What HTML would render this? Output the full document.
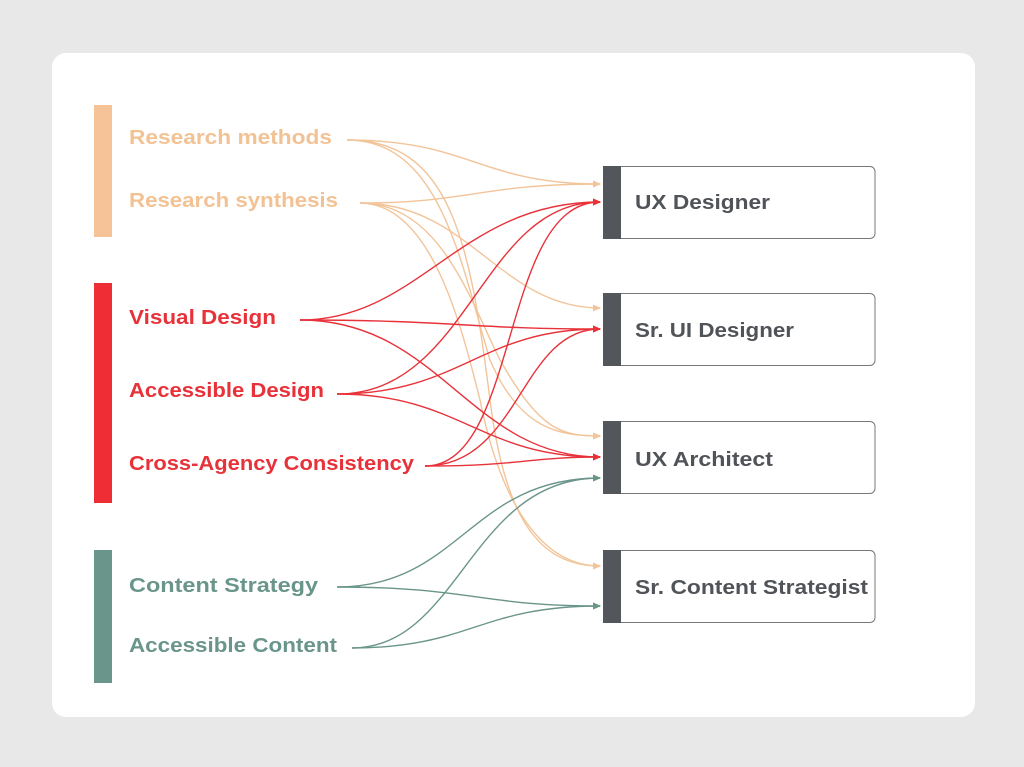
<!DOCTYPE html>
<html><head><style>
html,body{margin:0;padding:0;background:#e8e8e8;}
svg{display:block;}
text{font-family:"Liberation Sans",sans-serif;font-weight:bold;font-size:20px;}
</style></head><body>
<svg width="1024" height="767" viewBox="0 0 1024 767" xmlns="http://www.w3.org/2000/svg">
<defs>
<marker id="ao" markerWidth="8" markerHeight="8" refX="7" refY="4" orient="auto" markerUnits="userSpaceOnUse"><path d="M0,0.5 L8,4 L0,7.5z" fill="#f2c49a"/></marker>
<marker id="ar" markerWidth="8" markerHeight="8" refX="7" refY="4" orient="auto" markerUnits="userSpaceOnUse"><path d="M0,0.5 L8,4 L0,7.5z" fill="#e8323a"/></marker>
<marker id="ag" markerWidth="8" markerHeight="8" refX="7" refY="4" orient="auto" markerUnits="userSpaceOnUse"><path d="M0,0.5 L8,4 L0,7.5z" fill="#6a958a"/></marker>
</defs>
<rect x="52" y="53" width="923" height="664" rx="14" fill="#fff"/>
<rect x="94" y="105" width="18" height="132" fill="#f5c397"/>
<rect x="94" y="283" width="18" height="220" fill="#ee2d35"/>
<rect x="94" y="550" width="18" height="133" fill="#6a958a"/>
<g fill="#f3c294">
<text x="129" y="144" textLength="203" lengthAdjust="spacingAndGlyphs">Research methods</text>
<text x="129" y="207" textLength="209" lengthAdjust="spacingAndGlyphs">Research synthesis</text>
</g>
<g fill="#e8323a">
<text x="129" y="324" textLength="147" lengthAdjust="spacingAndGlyphs">Visual Design</text>
<text x="129" y="397" textLength="195" lengthAdjust="spacingAndGlyphs">Accessible Design</text>
<text x="129" y="470" textLength="285" lengthAdjust="spacingAndGlyphs">Cross-Agency Consistency</text>
</g>
<g fill="#6a958a">
<text x="129" y="592" textLength="189" lengthAdjust="spacingAndGlyphs">Content Strategy</text>
<text x="129" y="652" textLength="208" lengthAdjust="spacingAndGlyphs">Accessible Content</text>
</g>
<g fill="none" stroke-width="1.4">
<g stroke="#f2c49a" marker-end="url(#ao)">
<path d="M347,140 C470,140 480,184 600,184"/>
<path d="M347,140 C450,140 470,240 490,400 C505,520 540,566 600,566"/>
<path d="M347,140 C440,140 460,260 490,360 C520,430 560,436 600,436"/>
<path d="M360,203 C470,203 480,184 600,184"/>
<path d="M360,203 C470,203 500,308 600,308"/>
<path d="M360,203 C440,203 470,300 500,360 C540,430 560,436 600,436"/>
<path d="M360,203 C430,203 460,320 480,400 C500,500 540,566 600,566"/>
</g>
<g stroke="#e8323a" marker-end="url(#ar)">
<path d="M300,320 C420,320 460,202 600,202"/>
<path d="M300,320 C450,320 470,329 600,329"/>
<path d="M300,320 C440,320 470,457 600,457"/>
<path d="M337,394 C470,394 480,202 600,202"/>
<path d="M337,394 C460,394 480,329 600,329"/>
<path d="M337,394 C460,394 480,457 600,457"/>
<path d="M425,466 C520,466 500,202 600,202"/>
<path d="M425,466 C520,466 520,329 600,329"/>
<path d="M425,466 C520,466 530,457 600,457"/>
</g>
<g stroke="#6a958a" marker-end="url(#ag)">
<path d="M337,587 C460,587 470,478 600,478"/>
<path d="M337,587 C470,587 480,606 600,606"/>
<path d="M352,648 C460,648 470,478 600,478"/>
<path d="M352,648 C470,648 480,606 600,606"/>
</g>
</g>
<g stroke="#777" stroke-width="1" fill="#fff">
<rect x="612" y="166.5" width="263" height="72" rx="5"/>
<rect x="612" y="293.5" width="263" height="72" rx="5"/>
<rect x="612" y="421.5" width="263" height="72" rx="5"/>
<rect x="612" y="550.5" width="263" height="72" rx="5"/>
</g>
<g fill="#53575b">
<rect x="603" y="166" width="18" height="73"/>
<rect x="603" y="293" width="18" height="73"/>
<rect x="603" y="421" width="18" height="73"/>
<rect x="603" y="550" width="18" height="73"/>
</g>
<g fill="#505458">
<text x="635" y="209" textLength="135" lengthAdjust="spacingAndGlyphs">UX Designer</text>
<text x="635" y="337" textLength="159" lengthAdjust="spacingAndGlyphs">Sr. UI Designer</text>
<text x="635" y="466" textLength="138" lengthAdjust="spacingAndGlyphs">UX Architect</text>
<text x="635" y="594" textLength="233" lengthAdjust="spacingAndGlyphs">Sr. Content Strategist</text>
</g>
</svg>
</body></html>
